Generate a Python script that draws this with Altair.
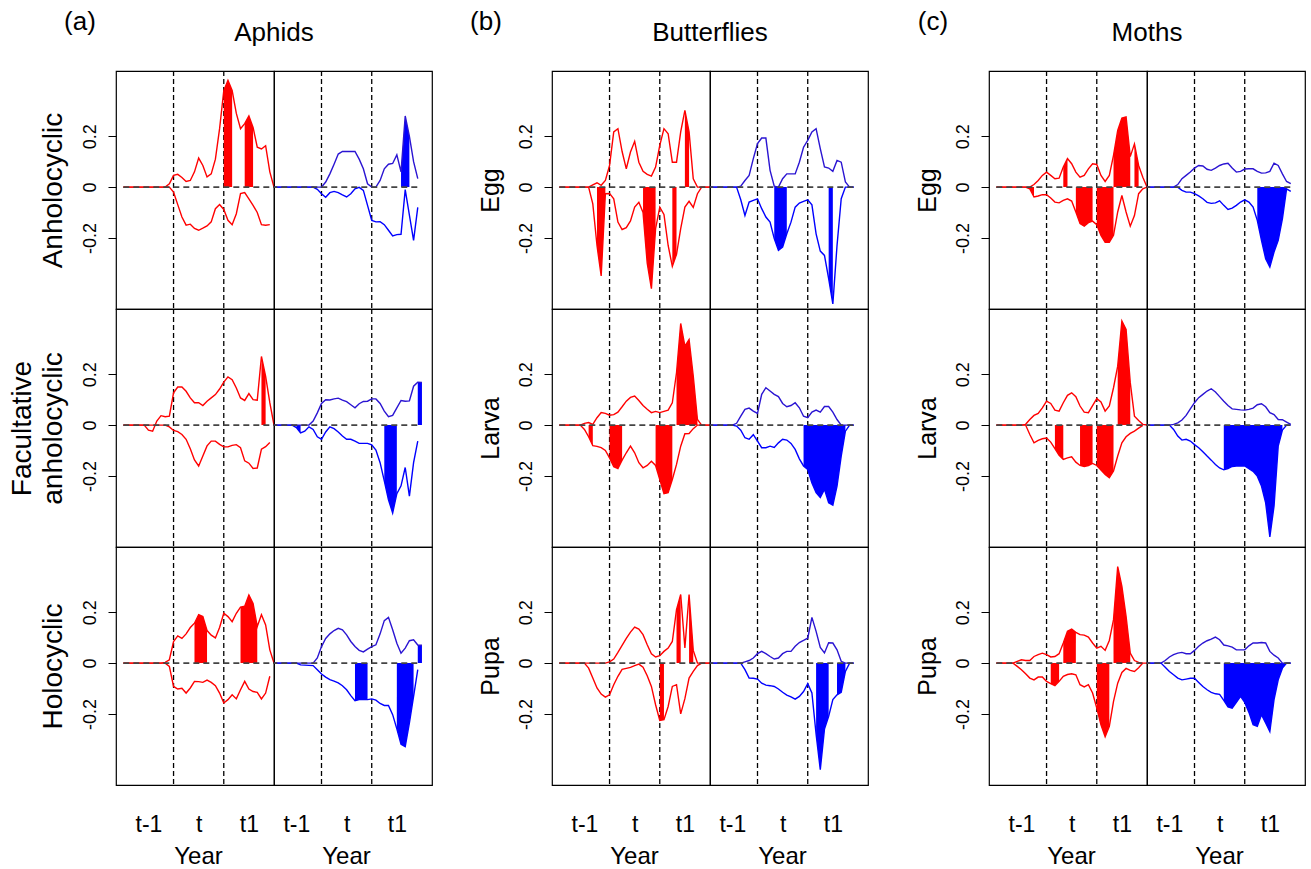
import altair as alt
import numpy as np
import pandas as pd

FONT = "Liberation Sans"
MONTHS = list(range(37))

# ---------------- Aphids ----------------
# Anholocyclic
aph_anh_red_up = [0, 0, 0, 0, 0, 0, 0, 0, 0, 0, 0, 0.013,
                  0.046, 0.05, 0.038, 0.022, 0.026, 0.06, 0.114, 0.085, 0.04, 0.052, 0.11, 0.23,
                  0.38, 0.42, 0.38, 0.29, 0.23, 0.25, 0.28, 0.235, 0.157, 0.15, 0.163, 0.06,
                  0]
aph_anh_red_lo = [0, 0, 0, 0, 0, 0, 0, 0, 0, 0, 0, 0,
                  -0.02, -0.069, -0.118, -0.15, -0.146, -0.163, -0.17, -0.162, -0.153, -0.137, -0.085, -0.069,
                  -0.088, -0.131, -0.148, -0.105, -0.026, -0.022, -0.046, -0.072, -0.1, -0.148, -0.15, -0.148,
                  None]
aph_anh_blue_up = [0, 0, 0, 0, 0, 0, 0, 0, 0, 0, 0, 0,
                   0, 0.02, 0.052, 0.09, 0.13, 0.14, 0.14, 0.14, 0.14, 0.11, 0.072, 0.013,
                   0, 0, 0.026, 0.072, 0.09, 0.093, 0.127, 0.06, 0.28, 0.2, 0.1, 0.033,
                   None]
aph_anh_blue_lo = [0, 0, 0, 0, 0, 0, 0, 0, 0, 0, 0, -0.009,
                   -0.026, -0.04, -0.022, -0.017, -0.022, -0.031, -0.039, -0.026, -0.007, -0.001, -0.013, -0.072,
                   -0.131, -0.137, -0.136, -0.148, -0.17, -0.192, -0.187, -0.186, -0.01, -0.11, -0.21, -0.08,
                   None]
aph_anh_sig = {"red_up": [(24, 26), (29, 31)], "red_lo": [], "blue_up": [(31, 33)], "blue_lo": []}

# Facultative anholocyclic
aph_fac_red_up = [0, 0, 0, 0, 0, 0, -0.02, -0.024, 0.016, 0.037, 0.033, 0.035,
                  0.127, 0.15, 0.15, 0.133, 0.107, 0.088, 0.088, 0.077, 0.094, 0.107, 0.12, 0.142,
                  0.169, 0.19, 0.179, 0.146, 0.107, 0.097, 0.124, 0.1, 0.098, 0.27, 0.192, 0.088,
                  0]
aph_fac_red_lo = [0, 0, 0, 0, 0, 0, 0, 0, 0, 0, 0, -0.007,
                  -0.021, -0.026, -0.037, -0.056, -0.093, -0.137, -0.161, -0.122, -0.082, -0.063, -0.063, -0.076,
                  -0.086, -0.086, -0.08, -0.077, -0.089, -0.141, -0.15, -0.171, -0.169, -0.095, -0.085, -0.069,
                  None]
aph_fac_blue_up = [0, 0, 0, 0, 0, 0, 0, 0, 0, 0, 0.016, 0.048,
                   0.085, 0.1, 0.099, 0.103, 0.106, 0.098, 0.092, 0.08, 0.068, 0.084, 0.093, 0.094,
                   0.103, 0.103, 0.085, 0.055, 0.033, 0.038, 0.068, 0.097, 0.094, 0.095, 0.153, 0.169,
                   0.168]
aph_fac_blue_lo = [0, 0, 0, 0, 0, 0, -0.01, -0.031, -0.024, -0.007, -0.017, -0.046,
                   -0.056, -0.027, -0.007, -0.014, -0.027, -0.043, -0.056, -0.056, -0.063, -0.072, -0.072, -0.072,
                   -0.078, -0.098, -0.148, -0.22, -0.294, -0.346, -0.27, -0.239, -0.167, -0.28, -0.148, -0.063,
                   None]
aph_fac_sig = {"red_up": [(33, 34)], "red_lo": [], "blue_up": [(35, 36)], "blue_lo": [(6, 7), (27, 30)]}

# Holocyclic
aph_hol_red_up = [0, 0, 0, 0, 0, 0, 0, 0, 0, 0, 0.003, 0.013,
                  0.085, 0.107, 0.097, 0.115, 0.14, 0.157, 0.191, 0.183, 0.128, 0.11, 0.099, 0.14,
                  0.196, 0.183, 0.163, 0.196, 0.22, 0.224, 0.268, 0.235, 0.144, 0.19, 0.15, 0.052,
                  0]
aph_hol_red_lo = [0, 0, 0, 0, 0, 0, 0, 0, 0, 0, 0, -0.013,
                  -0.092, -0.102, -0.099, -0.118, -0.098, -0.072, -0.073, -0.076, -0.067, -0.076, -0.089, -0.118,
                  -0.157, -0.144, -0.125, -0.141, -0.105, -0.072, -0.102, -0.112, -0.115, -0.141, -0.118, -0.052,
                  None]
aph_hol_blue_up = [0, 0, 0, 0, 0, 0, 0, 0, 0, 0, 0, 0.02,
                   0.065, 0.097, 0.115, 0.128, 0.137, 0.131, 0.111, 0.085, 0.065, 0.05, 0.044, 0.055,
                   0.065, 0.072, 0.115, 0.167, 0.18, 0.131, 0.078, 0.039, 0.059, 0.088, 0.092, 0.071,
                   0.07]
aph_hol_blue_lo = [0, 0, 0, 0, 0, 0, 0, -0.007, -0.008, -0.009, -0.01, -0.026,
                   -0.043, -0.055, -0.065, -0.071, -0.078, -0.089, -0.105, -0.128, -0.148, -0.144, -0.144, -0.144,
                   -0.141, -0.146, -0.159, -0.167, -0.167, -0.203, -0.259, -0.32, -0.329, -0.235, -0.131, -0.026,
                   None]
aph_hol_sig = {"red_up": [(17, 20), (28, 32)], "red_lo": [], "blue_up": [(35, 36)], "blue_lo": [(20, 23), (30, 34)]}

# ---------------- Butterflies ----------------
# Egg
but_egg_red_up = [0, 0, 0, 0, 0, 0, 0, 0, 0.009, 0.017, 0.007, 0.026,
                  0.085, 0.217, 0.23, 0.14, 0.072, 0.138, 0.18, 0.098, 0.062, 0.05, 0.043, 0.079,
                  0.164, 0.23, 0.21, 0.098, 0.098, 0.217, 0.302, 0.217, 0.033, 0, 0, 0,
                  0]
but_egg_red_lo = [0, 0, 0, 0, 0, 0, 0, 0, -0.066, -0.23, -0.35, -0.026,
                  -0.025, -0.046, -0.138, -0.167, -0.16, -0.133, -0.079, -0.06, -0.1, -0.3, -0.4, -0.164,
                  -0.079, -0.108, -0.23, -0.312, -0.265, -0.164, -0.079, -0.056, -0.08, -0.026, 0, 0,
                  0]
but_egg_blue_up = [0, 0, 0, 0, 0, 0, 0, 0, 0.004, 0.026, 0.046, 0.112,
                   0.171, 0.193, 0.193, 0.066, 0.004, 0, 0.033, 0.052, 0.052, 0.052, 0.098, 0.157,
                   0.184, 0.217, 0.23, 0.151, 0.079, 0.075, 0.062, 0.105, 0.098, 0.02, 0, 0,
                   None]
but_egg_blue_lo = [0, 0, 0, 0, 0, 0, 0, 0, -0.05, -0.112, -0.059, -0.052,
                   -0.046, -0.085, -0.118, -0.138, -0.203, -0.249, -0.236, -0.184, -0.138, -0.079, -0.063, -0.056,
                   -0.05, -0.07, -0.184, -0.252, -0.269, -0.36, -0.46, -0.23, -0.046, 0, 0, 0,
                   None]
but_egg_sig = {"red_up": [(30, 31)], "red_lo": [(9, 11), (20, 23), (27, 28)], "blue_up": [], "blue_lo": [(16, 19), (29, 30)]}

# Larva
but_lar_red_up = [0, 0, 0, 0, 0, 0, 0.007, 0.01, 0.003, 0.029, 0.049, 0.046,
                  0.039, 0.041, 0.051, 0.072, 0.094, 0.109, 0.114, 0.097, 0.077, 0.062, 0.049, 0.054,
                  0.049, 0.054, 0.059, 0.088, 0.206, 0.4, 0.311, 0.337, 0.193, 0.022, 0, 0,
                  0]
but_lar_red_lo = [0, 0, 0, 0, 0, 0, -0.017, -0.046, -0.081, -0.084, -0.089, -0.1,
                  -0.129, -0.164, -0.171, -0.138, -0.109, -0.083, -0.109, -0.148, -0.168, -0.159, -0.142, -0.159,
                  -0.214, -0.27, -0.266, -0.214, -0.155, -0.083, -0.034, -0.033, -0.014, 0, 0, 0,
                  0]
but_lar_blue_up = [0, 0, 0, 0, 0, 0, 0, 0.007, 0.035, 0.062, 0.067, 0.055,
                   0.046, 0.121, 0.147, 0.134, 0.121, 0.112, 0.085, 0.072, 0.077, 0.088, 0.068, 0.035,
                   0.029, 0.051, 0.059, 0.051, 0.073, 0.073, 0.051, 0.022, 0, 0, 0, 0,
                   None]
but_lar_blue_lo = [0, 0, 0, 0, 0, 0, 0, -0.004, -0.02, -0.05, -0.056, -0.038,
                   -0.063, -0.089, -0.089, -0.083, -0.088, -0.07, -0.056, -0.059, -0.072, -0.096, -0.133, -0.161,
                   -0.175, -0.228, -0.266, -0.285, -0.253, -0.306, -0.315, -0.24, -0.122, -0.024, 0, 0,
                   None]
but_lar_sig = {"red_up": [(28, 33)], "red_lo": [(7, 8), (12, 15), (23, 27)], "blue_up": [], "blue_lo": [(23, 33)]}

# Pupa
but_pup_red_up = [0, 0, 0, 0, 0, 0, 0, 0, 0, 0, 0, 0,
                  0.005, 0.016, 0.042, 0.07, 0.097, 0.122, 0.142, 0.134, 0.112, 0.072, 0.037, 0.024,
                  0.029, 0.046, 0.059, 0.085, 0.21, 0.27, 0.06, 0.27, 0.05, 0, 0, 0,
                  0]
but_pup_red_lo = [0, 0, 0, 0, 0, 0, 0, -0.02, -0.059, -0.098, -0.122, -0.134,
                  -0.125, -0.085, -0.052, -0.025, -0.021, -0.017, -0.01, -0.004, -0.016, -0.05, -0.092, -0.164,
                  -0.226, -0.223, -0.171, -0.092, -0.085, -0.2, -0.14, -0.059, -0.033, -0.01, 0, 0,
                  0]
but_pup_blue_up = [0, 0, 0, 0, 0, 0, 0, 0, 0, 0.005, 0.01, 0.02,
                   0.037, 0.046, 0.037, 0.026, 0.016, 0.02, 0.037, 0.046, 0.046, 0.066, 0.081, 0.089,
                   0.098, 0.18, 0.125, 0.062, 0.04, 0.08, 0.079, 0.052, 0.007, 0, 0, 0,
                   None]
but_pup_blue_lo = [0, 0, 0, 0, 0, 0, 0, 0, 0, -0.026, -0.059, -0.06,
                   -0.063, -0.079, -0.087, -0.089, -0.092, -0.102, -0.115, -0.126, -0.133, -0.142, -0.131, -0.112,
                   -0.081, -0.118, -0.28, -0.42, -0.26, -0.21, -0.144, -0.125, -0.115, -0.033, 0, 0,
                   None]
but_pup_sig = {"red_up": [(28, 29), (31, 32)], "red_lo": [(24, 25)], "blue_up": [], "blue_lo": [(26, 29), (31, 33)]}

# ---------------- Moths ----------------
# Egg
mot_egg_red_up = [0, 0, 0, 0, 0, 0, 0, 0, 0, 0.01, 0.026, 0.046,
                  0.059, 0.046, 0.033, 0.035, 0.079, 0.112, 0.092, 0.059, 0.039, 0.046, 0.072, 0.092,
                  0.089, 0.046, 0.022, 0.046, 0.125, 0.223, 0.272, 0.276, 0.12, 0.17, 0.085, 0.039,
                  0]
mot_egg_red_lo = [0, 0, 0, 0, 0, 0, 0, 0, -0.007, -0.039, -0.035, -0.03,
                  -0.03, -0.043, -0.059, -0.062, -0.052, -0.046, -0.055, -0.098, -0.144, -0.154, -0.14, -0.134,
                  -0.148, -0.19, -0.217, -0.217, -0.19, -0.098, -0.033, -0.098, -0.154, -0.112, -0.026, -0.007,
                  0]
mot_egg_blue_up = [0, 0, 0, 0, 0, 0, 0, 0, 0.01, 0.033, 0.046, 0.059,
                   0.075, 0.085, 0.083, 0.07, 0.066, 0.075, 0.085, 0.091, 0.094, 0.075, 0.059, 0.062,
                   0.071, 0.072, 0.072, 0.062, 0.055, 0.056, 0.062, 0.094, 0.085, 0.052, 0.022, 0.014,
                   None]
mot_egg_blue_lo = [0, 0, 0, 0, 0, 0, 0, 0, 0, -0.013, -0.02, -0.02,
                   -0.026, -0.035, -0.046, -0.06, -0.064, -0.062, -0.054, -0.072, -0.088, -0.083, -0.072, -0.059,
                   -0.05, -0.059, -0.079, -0.131, -0.21, -0.282, -0.315, -0.256, -0.21, -0.125, -0.007, -0.017,
                   None]
mot_egg_sig = {"red_up": [(16, 17), (28, 32), (33, 34)], "red_lo": [(8, 9), (19, 23), (24, 28)], "blue_up": [], "blue_lo": [(27, 34)]}

# Larva
mot_lar_red_up = [0, 0, 0, 0, 0, 0, 0, 0.003, 0.022, 0.038, 0.046, 0.068,
                  0.094, 0.085, 0.059, 0.055, 0.088, 0.117, 0.127, 0.112, 0.075, 0.051, 0.049, 0.077,
                  0.104, 0.091, 0.055, 0.075, 0.147, 0.232, 0.41, 0.377, 0.167, 0.035, 0.018, 0.003,
                  0]
mot_lar_red_lo = [0, 0, 0, 0, 0, 0, 0, 0, -0.037, -0.07, -0.06, -0.054,
                  -0.051, -0.067, -0.093, -0.119, -0.135, -0.129, -0.125, -0.146, -0.159, -0.163, -0.159, -0.151,
                  -0.159, -0.177, -0.194, -0.207, -0.181, -0.122, -0.07, -0.046, -0.033, -0.024, -0.012, -0.001,
                  None]
mot_lar_blue_up = [0, 0, 0, 0, 0, 0, 0, 0.003, 0.009, 0.02, 0.038, 0.064,
                   0.088, 0.108, 0.121, 0.134, 0.143, 0.13, 0.112, 0.094, 0.077, 0.064, 0.062, 0.06,
                   0.059, 0.062, 0.067, 0.08, 0.084, 0.072, 0.049, 0.041, 0.022, 0.021, 0.012, 0.003,
                   None]
mot_lar_blue_lo = [0, 0, 0, 0, 0, 0, 0, -0.017, -0.043, -0.059, -0.056, -0.063,
                   -0.077, -0.089, -0.105, -0.122, -0.138, -0.155, -0.169, -0.176, -0.171, -0.163, -0.161, -0.161,
                   -0.161, -0.172, -0.182, -0.201, -0.24, -0.306, -0.44, -0.319, -0.083, -0.02, 0, 0,
                   None]
mot_lar_sig = {"red_up": [(29, 32)], "red_lo": [(14, 16), (20, 23), (24, 28)], "blue_up": [], "blue_lo": [(19, 33)]}

# Pupa
mot_pup_red_up = [0, 0, 0, 0, 0, 0.007, 0.013, 0.01, 0.01, 0.026, 0.033, 0.039,
                  0.033, 0.024, 0.026, 0.037, 0.079, 0.125, 0.134, 0.121, 0.112, 0.11, 0.102, 0.079,
                  0.059, 0.066, 0.05, 0.089, 0.171, 0.38, 0.302, 0.184, 0.039, 0.01, 0.003, 0,
                  0]
mot_pup_red_lo = [0, 0, 0, 0, 0, -0.013, -0.026, -0.042, -0.059, -0.066, -0.055, -0.055,
                  -0.072, -0.081, -0.089, -0.072, -0.052, -0.045, -0.042, -0.046, -0.085, -0.094, -0.085, -0.118,
                  -0.177, -0.243, -0.29, -0.249, -0.151, -0.079, -0.037, -0.021, -0.029, -0.033, -0.018, 0,
                  None]
mot_pup_blue_up = [0, 0, 0, 0, 0, 0.01, 0.024, 0.033, 0.039, 0.042, 0.037, 0.037,
                   0.05, 0.066, 0.079, 0.088, 0.094, 0.102, 0.092, 0.071, 0.068, 0.063, 0.052, 0.052,
                   0.052, 0.068, 0.079, 0.079, 0.081, 0.079, 0.046, 0.031, 0.02, 0, 0, 0,
                   None]
mot_pup_blue_lo = [0, 0, 0, 0, 0, -0.016, -0.033, -0.046, -0.059, -0.066, -0.063, -0.06,
                   -0.06, -0.076, -0.092, -0.105, -0.115, -0.121, -0.123, -0.147, -0.173, -0.178, -0.155, -0.131,
                   -0.155, -0.194, -0.243, -0.249, -0.203, -0.236, -0.27, -0.144, -0.066, -0.02, 0, 0,
                   None]
mot_pup_sig = {"red_up": [(16, 19), (28, 32)], "red_lo": [(13, 15), (24, 27)], "blue_up": [], "blue_lo": [(19, 34)]}

# ---------------- labels ----------------
GROUP_TITLES = ["Aphids", "Butterflies", "Moths"]
GROUP_TAGS = ["(a)", "(b)", "(c)"]
TAG_OFFSETS = [-36, -66, -56]
ROW_LABELS = [
    ["Anholocyclic", ["Facultative", "anholocyclic"], "Holocyclic"],
    ["Egg", "Larva", "Pupa"],
    ["Egg", "Larva", "Pupa"],
]
ROW_LABEL_SIZE = [28, 25, 25]
YEAR_TICKS = [6, 18, 30]
YEAR_LABELS = ["t-1", "t", "t1"]
YEAR_BOUNDS = [12, 24]

DATA = [
    [(aph_anh_red_up, aph_anh_red_lo, aph_anh_blue_up, aph_anh_blue_lo, aph_anh_sig),
     (aph_fac_red_up, aph_fac_red_lo, aph_fac_blue_up, aph_fac_blue_lo, aph_fac_sig),
     (aph_hol_red_up, aph_hol_red_lo, aph_hol_blue_up, aph_hol_blue_lo, aph_hol_sig)],
    [(but_egg_red_up, but_egg_red_lo, but_egg_blue_up, but_egg_blue_lo, but_egg_sig),
     (but_lar_red_up, but_lar_red_lo, but_lar_blue_up, but_lar_blue_lo, but_lar_sig),
     (but_pup_red_up, but_pup_red_lo, but_pup_blue_up, but_pup_blue_lo, but_pup_sig)],
    [(mot_egg_red_up, mot_egg_red_lo, mot_egg_blue_up, mot_egg_blue_lo, mot_egg_sig),
     (mot_lar_red_up, mot_lar_red_lo, mot_lar_blue_up, mot_lar_blue_lo, mot_lar_sig),
     (mot_pup_red_up, mot_pup_red_lo, mot_pup_blue_up, mot_pup_blue_lo, mot_pup_sig)],
]

RED = "#ff0000"
BLUE_UP = "#2a14d2"
BLUE_LO = "#0000ff"
BLUE_FILL = "#0000ff"
XDOM = {"left": [-1.75, 36.0], "right": [0.65, 38.4]}
ZERO_END = {"left": 36, "right": 35.5}
YDOM = [-0.48, 0.457]
PW, PH = 158, 238
GAPS = [120, 121]

label_expr_x = " : ".join(
    f"datum.value == {v} ? '{t}'" for v, t in zip(YEAR_TICKS[:-1], YEAR_LABELS[:-1])
) + f" : '{YEAR_LABELS[-1]}'"
label_expr_y = ("datum.value == 0 ? '0' : (datum.value < 0 ? '-' + format(-datum.value, '.1f') "
                ": format(datum.value, '.1f'))")


def series_df(vals):
    return pd.DataFrame({"month": MONTHS[:len(vals)],
                         "value": [np.nan if v is None else v for v in vals]})


def sig_df(vals, ranges):
    rows = []
    for k, (a, b) in enumerate(ranges):
        for m in range(a, b + 1):
            if m < len(vals) and vals[m] is not None:
                rows.append({"month": m, "value": vals[m], "seg": k})
    return pd.DataFrame(rows)


def panel(up, lo, sig_up, sig_lo, side, c_up, c_lo, c_fill, row_title, title_size, bottom, annot):
    xs = alt.Scale(domain=XDOM[side], nice=False, zero=False)
    ys = alt.Scale(domain=YDOM, nice=False, zero=False)
    if bottom:
        xaxis = alt.Axis(values=YEAR_TICKS, labelExpr=label_expr_x, ticks=False, domain=False,
                         grid=False, labelFontSize=23, labelPadding=28, labelFlush=False,
                         labelOverlap=False, title="Year", titleFontSize=24, titlePadding=8,
                         titleX=82 if side == "left" else 72)
    else:
        xaxis = None
    if side == "left":
        yaxis = alt.Axis(values=[-0.2, 0, 0.2], labelExpr=label_expr_y, tickSize=8,
                         tickColor="black", domain=False, grid=False, labelFontSize=18,
                         labelAngle=270, labelAlign="center", labelBaseline="bottom",
                         labelPadding=8.5, title=row_title, titleFontSize=title_size,
                         titlePadding=14.5, titleLineHeight=31)
    else:
        yaxis = None

    def X(f):
        return alt.X(f, type="quantitative", scale=xs, axis=xaxis)

    def Y(f):
        return alt.Y(f, type="quantitative", scale=ys, axis=yaxis)

    layers = []
    layers.append(
        alt.Chart(pd.DataFrame({"month": YEAR_BOUNDS}))
        .mark_rule(color="black", strokeDash=[5, 3], strokeWidth=1.3)
        .encode(x=X("month"))
    )
    for vals, ranges in ((up, sig_up), (lo, sig_lo)):
        if ranges:
            layers.append(
                alt.Chart(sig_df(vals, ranges))
                .mark_area(color=c_fill, opacity=1, clip=True, interpolate="linear")
                .encode(x=X("month"), y=Y("value"), y2=alt.datum(0), detail="seg:N")
            )
    for vals, col in ((up, c_up), (lo, c_lo)):
        layers.append(
            alt.Chart(series_df(vals))
            .mark_line(color=col, strokeWidth=1.4, clip=True)
            .encode(x=X("month"), y=Y("value"))
        )
    layers.append(
        alt.Chart(pd.DataFrame({"month": [0], "month_end": [ZERO_END[side]], "value": [0]}))
        .mark_rule(color="#444444", strokeDash=[6, 4], strokeWidth=1.6, clip=True)
        .encode(x=X("month"), x2="month_end", y=Y("value"))
    )
    if annot is not None:
        tag, title, tag_dx = annot
        layers.append(
            alt.Chart(pd.DataFrame({"t": [tag]}))
            .mark_text(font=FONT, fontSize=26, align="center", baseline="middle", color="black")
            .encode(text="t:N", x=alt.value(tag_dx), y=alt.value(-49))
        )
        layers.append(
            alt.Chart(pd.DataFrame({"t": [title]}))
            .mark_text(font=FONT, fontSize=26, align="center", baseline="middle", color="black")
            .encode(text="t:N", x=alt.value(PW), y=alt.value(-38))
        )
    return alt.layer(*layers).properties(width=PW, height=PH)


def spacer(w):
    return (
        alt.Chart(pd.DataFrame({"s": [0]}))
        .mark_point(opacity=0)
        .encode(x=alt.X("s:Q", axis=None), y=alt.Y("s:Q", axis=None))
        .properties(width=w, height=PH, view=alt.ViewBackground(strokeOpacity=0, strokeWidth=0))
    )


cells = []
for r in range(3):
    for g in range(3):
        up_r, lo_r, up_b, lo_b, sig = DATA[g][r]
        annot = (GROUP_TAGS[g], GROUP_TITLES[g], TAG_OFFSETS[g]) if r == 0 else None
        cells.append(panel(up_r, lo_r, sig["red_up"], sig["red_lo"], "left", RED, RED, RED,
                           ROW_LABELS[g][r], ROW_LABEL_SIZE[g], r == 2, annot))
        cells.append(panel(up_b, lo_b, sig["blue_up"], sig["blue_lo"], "right", BLUE_UP, BLUE_LO,
                           BLUE_FILL, None, ROW_LABEL_SIZE[g], r == 2, None))
        if g < 2:
            cells.append(spacer(GAPS[g]))

chart = (
    alt.concat(*cells, columns=8, spacing=0, bounds="flush")
    .properties(padding={"left": 7, "top": 8, "right": 4, "bottom": 0})
    .configure_view(stroke="black", strokeWidth=1.2)
    .configure_axis(labelFont=FONT, titleFont=FONT, labelColor="black", titleColor="black",
                    titleFontWeight="normal", grid=False)
)

chart.save("out.html", embed_options={"renderer": "svg", "actions": False})
